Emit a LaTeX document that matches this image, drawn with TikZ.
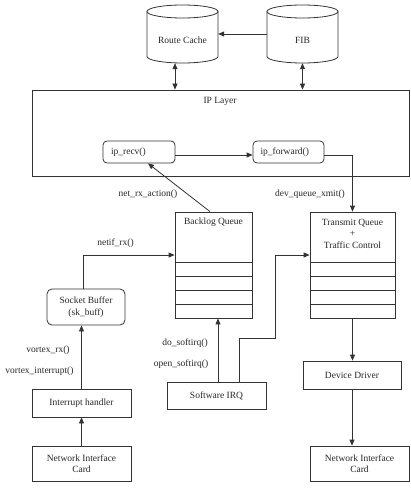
\documentclass[tikz,border=0pt]{standalone}
\usepackage{fontspec}
\setmainfont{Liberation Serif}
\usetikzlibrary{arrows.meta}
\begin{document}
\begin{tikzpicture}[x=1pt,y=-1pt,
  every node/.style={font=\fontsize{9.5}{11.5}\selectfont, inner sep=0pt, text=black!85},
  box/.style={draw=black!80, line width=0.8pt, rectangle},
  rbox/.style={box, rounded corners=4pt},
  conn/.style={draw=black!80, line width=0.8pt, -{Triangle[length=6pt,width=5pt]}},
  dconn/.style={draw=black!80, line width=0.8pt, {Triangle[length=6pt,width=5pt]}-{Triangle[length=6pt,width=5pt]}},
  plain/.style={draw=black!80, line width=0.8pt}]
\useasboundingbox (0,0) rectangle (411,489);

% cylinders
\foreach \cx in {182.5,302.5}{
  \draw[plain] (\cx,11.5) ellipse [x radius=35.5pt, y radius=6.5pt];
  \draw[plain] ({\cx-35.5},11.5) -- ({\cx-35.5},56.5)
     .. controls ({\cx-35.5},60.09) and ({\cx-19.6},63) .. (\cx,63)
     .. controls ({\cx+19.6},63) and ({\cx+35.5},60.09) .. ({\cx+35.5},56.5)
     -- ({\cx+35.5},11.5);
}
\node[minimum width=71pt, minimum height=58pt] (rc) at (182.5,34) {};
\node[minimum width=71pt, minimum height=58pt] (fib) at (302.5,34) {};
\node (rclbl) at (182.5,40) {Route Cache};
\node (fiblbl) at (302.5,40) {FIB};

% IP layer
\node[box, minimum width=377pt, minimum height=86pt] (ip) at (220.5,133) {};
\node (iplbl) at (220,101) {IP Layer};
\node[rbox, minimum width=72pt, minimum height=22pt, text width=56pt, align=left] (ipr) at (139,152) {ip\_recv()};
\node[rbox, minimum width=71pt, minimum height=22pt, text width=56pt, align=left] (ipf) at (288.5,152) {ip\_forward()};

% queues
\node[box, minimum width=77pt, minimum height=106pt] (bq) at (213.5,265) {};
\node (bqlbl) at (213.5,222) {Backlog Queue};
\foreach \yy in {262,276,290,304} \draw[plain] (175,\yy) -- (252,\yy);

\node[box, minimum width=85pt, minimum height=106pt] (tq) at (352.5,265) {};
\node[align=center] (tqlbl) at (352.5,233.5) {Transmit Queue\\+\\Traffic Control};
\foreach \yy in {262,276,290,304} \draw[plain] (310,\yy) -- (395,\yy);

% other boxes
\node[box, rounded corners=5pt, minimum width=78pt, minimum height=36pt, align=center] (sb) at (86,307) {Socket Buffer\\(sk\_buff)};
\node[box, minimum width=99pt, minimum height=28pt] (ih) at (81.5,403) {Interrupt handler};
\node[box, minimum width=99pt, minimum height=35pt, align=center] (nicl) at (81.5,463.5) {Network Interface\\Card};
\node[box, minimum width=99pt, minimum height=27pt] (sirq) at (216.5,395.5) {Software IRQ};
\node[box, minimum width=98pt, minimum height=28pt] (dd) at (352,375) {Device Driver};
\node[box, minimum width=99pt, minimum height=35pt, align=center] (nicr) at (359.5,463.5) {Network Interface\\Card};

% connectors
\draw[conn] (fib.west) -- (rc.east);
\draw[dconn] ([xshift=-7.5pt]rc.south) -- ([xshift=-7.5pt]rc.south |- ip.north);
\draw[dconn] (fib.south) -- (fib.south |- ip.north);
\draw[conn] ([yshift=-3pt]ipr.east) -- ([yshift=-3pt]ipf.west);
\draw[conn] ([yshift=-3pt]ipf.east) -| (tq.north);
\draw[conn] ([xshift=-3.5pt]bq.north) -- ([xshift=9pt]ipr.south);
\draw[conn] ([xshift=-3pt]sb.north) |- ([yshift=10pt]bq.west);
\draw[conn] (ih.north) -- (ih.north |- sb.south);
\draw[conn] (nicl.north) -- (ih.south);
\draw[conn] ([xshift=1.5pt]sirq.north) -- ([xshift=1.5pt]sirq.north |- bq.south);
\draw[conn] ([xshift=22.5pt]sirq.north) -- ++(0,-43) -- ++(36,0) |- ([yshift=10pt]tq.west);
\draw[conn] (tq.south) -- (tq.south |- dd.north);
\draw[conn] (dd.south) -- (dd.south |- nicr.north);

% labels
\node (l1) at (148,194) {net\_rx\_action()};
\node (l2) at (310,194) {dev\_queue\_xmit()};
\node (l3) at (115.5,243) {netif\_rx()};
\node (l4) at (48,350) {vortex\_rx()};
\node (l5) at (39.5,371) {vortex\_interrupt()};
\node (l6) at (185,343) {do\_softirq()};
\node (l7) at (181,364) {open\_softirq()};
\end{tikzpicture}
\end{document}
